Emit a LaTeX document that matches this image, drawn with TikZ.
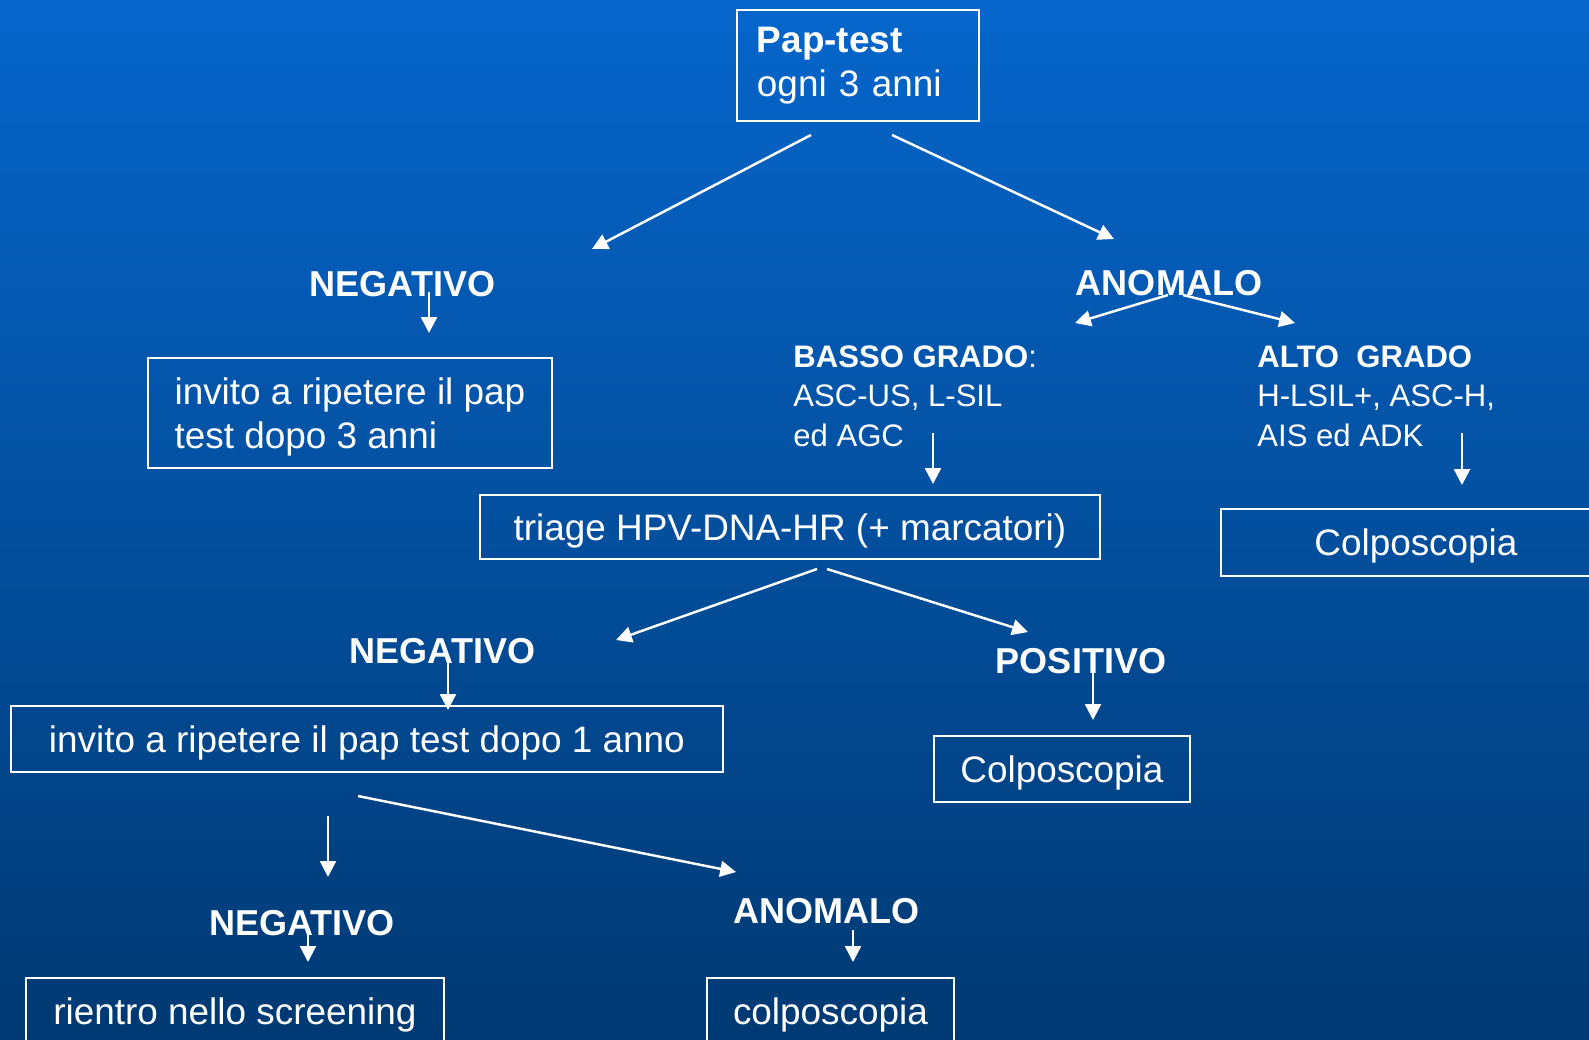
\documentclass[tikz,border=0pt]{standalone}
\usepackage{fontspec}
\setmainfont{Liberation Sans}
\usetikzlibrary{arrows.meta}

\definecolor{slidetop}{RGB}{6,102,204}
\definecolor{slidebottom}{RGB}{0,57,114}

\tikzset{
  box/.style={draw=white, line width=1.1pt, text=white, anchor=north west,
    inner xsep=0pt, inner ysep=0pt, align=center, text depth=0pt,
    font=\fontsize{21}{25}\selectfont},
  answer/.style={text=white, anchor=base, inner sep=0pt,
    font=\fontsize{20.5}{25}\selectfont\bfseries},
  grade/.style={text=white, anchor=base west, align=left, inner sep=0pt,
    font=\fontsize{17.7}{22.2}\selectfont},
  flow/.style={draw=white, line width=1.4pt, -{Triangle[length=9pt,width=9pt]}},
}

\begin{document}
\begin{tikzpicture}[x=0.02cm,y=-0.02cm]

\clip (0,0) rectangle (1589,1040);
\fill [top color=slidetop, bottom color=slidebottom] (0,0) rectangle (1589,1040);

% screening
\node [box, align=left, text depth=, text width=4.04cm, inner xsep=0.4cm, minimum height=2.22cm] (pap) at (736,9) {\textbf{Pap-test}\\ogni 3 anni};

\coordinate (papl) at (811,135);
\coordinate (papr) at (892,135);
\coordinate (negin) at (592,249);
\coordinate (anomin) at (1114,239);
\draw [flow] (papl) -- (negin);
\draw [flow] (papr) -- (anomin);

% negative branch
\node [answer] (neg) at (402.5,297) {NEGATIVO};
\coordinate (negout) at (429,292);
\coordinate (rep3in) at (429,333);
\draw [flow] (negout) -- (rep3in);

\node [box, align=left, minimum width=8.08cm, minimum height=2.2cm] (rep3) at (147,357) {invito a ripetere il pap\\test dopo 3 anni};

% abnormal branch
\node [answer] (anom) at (1169,296) {ANOMALO};
\coordinate (anoml) at (1168,295);
\coordinate (anomr) at (1183,295);
\coordinate (bassoin) at (1075,323);
\coordinate (altoin) at (1295,323);
\draw [flow] (anoml) -- (bassoin);
\draw [flow] (anomr) -- (altoin);

\node [grade] (basso) at (793,446) {\textbf{BASSO GRADO}:\\ASC-US, L-SIL\\ed AGC};
\node [grade] (alto) at (1257,446) {\textbf{ALTO\ \ GRADO}\\H-LSIL+, ASC-H,\\AIS ed ADK};

\coordinate (bassoout) at (933,433);
\coordinate (triagein) at (933,484);
\draw [flow] (bassoout) -- (triagein);
\coordinate (altoout) at (1462,433);
\coordinate (colpoin) at (1462,485);
\draw [flow] (altoout) -- (colpoin);

\node [box, minimum width=12.4cm, minimum height=1.28cm] (triage) at (479,494) {triage HPV-DNA-HR (+ marcatori)};
\node [box, minimum width=7.8cm, minimum height=1.34cm] (colpo) at (1220,508) {Colposcopia};

% triage result
\coordinate (triagel) at (817,569);
\coordinate (triager) at (827,569);
\coordinate (hpvnegin) at (616,640);
\coordinate (hpvposin) at (1028,632);
\draw [flow] (triagel) -- (hpvnegin);
\draw [flow] (triager) -- (hpvposin);

\node [answer] (hpvneg) at (442.5,663) {NEGATIVO};
\node [answer] (hpvpos) at (1081,673) {POSITIVO};
\coordinate (hpvnegout) at (448,659);
\coordinate (rep1in) at (448,710);
\draw [flow] (hpvnegout) -- (rep1in);
\coordinate (hpvposout) at (1093,671);
\coordinate (colpoposin) at (1093,720);
\draw [flow] (hpvposout) -- (colpoposin);

\node [box, minimum width=14.24cm, minimum height=1.32cm] (rep1) at (10,705) {invito a ripetere il pap test dopo 1 anno};
\node [box, minimum width=5.12cm, minimum height=1.32cm] (colpopos) at (933,735) {Colposcopia};

% after one year
\coordinate (rep1l) at (328,816);
\coordinate (rep1r) at (358,796);
\coordinate (lastnegin) at (328,877);
\coordinate (lastanomin) at (736,872);
\draw [flow] (rep1l) -- (lastnegin);
\draw [flow] (rep1r) -- (lastanomin);

\node [answer] (lastneg) at (302,935) {NEGATIVO};
\node [answer] (lastanom) at (826.5,923.5) {ANOMALO};
\coordinate (lastnegout) at (308,927);
\coordinate (rientroin) at (308,962);
\draw [flow] (lastnegout) -- (rientroin);
\coordinate (lastanomout) at (853,930);
\coordinate (colpolastin) at (853,962);
\draw [flow] (lastanomout) -- (colpolastin);

\node [box, minimum width=8.36cm, minimum height=1.34cm] (rientro) at (25,977) {rientro nello screening};
\node [box, minimum width=4.94cm, minimum height=1.34cm] (colpolast) at (706,977) {colposcopia};

\end{tikzpicture}
\end{document}
